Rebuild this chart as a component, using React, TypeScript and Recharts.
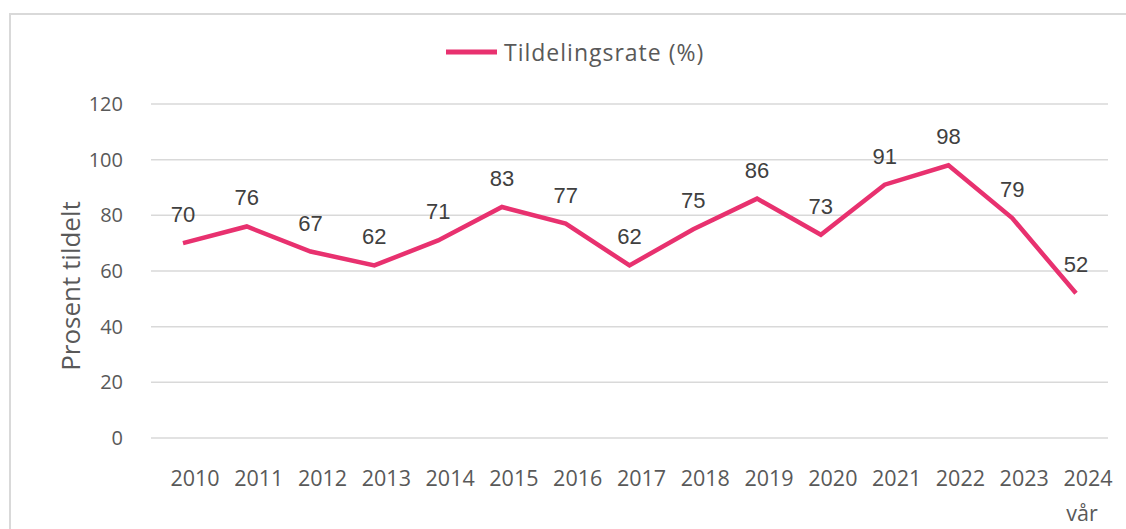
import React from 'react';
import { LineChart, Line, XAxis, YAxis, CartesianGrid, Legend, LabelList } from 'recharts';

const years = ['2010', '2011', '2012', '2013', '2014', '2015', '2016', '2017', '2018', '2019', '2020', '2021', '2022', '2023', '2024 vår'];
const rates = [70, 76, 67, 62, 71, 83, 77, 62, 75, 86, 73, 91, 98, 79, 52];
const yTicks = [0, 20, 40, 60, 80, 100, 120];

const data = years.map((year, i) => ({ year, rate: rates[i] }));

const pink = '#E8316F';
const grid = '#D9D9D9';
const tickColor = '#595959';
const font = "'Open Sans', sans-serif";

const YearTick = (props: any) => {
  const { x, y, payload } = props;
  const lines = String(payload.value).split(' ');
  return (
    <text x={x + 12} y={y + 40} textAnchor="middle" fill={tickColor} fontSize={21.5} fontFamily={font}>
      {lines.map((line, i) => (
        <tspan key={i} x={i === 0 ? x + 12 : x + 6} dy={i === 0 ? 0 : 35}>
          {line}
        </tspan>
      ))}
    </text>
  );
};

const LegendContent = () => (
  <div style={{ display: 'flex', alignItems: 'center', height: 30, fontFamily: font, fontSize: 23, letterSpacing: 1, color: tickColor }}>
    <svg width={51} height={6}>
      <line x1={0} y1={3} x2={51} y2={3} stroke={pink} strokeWidth={5} />
    </svg>
    <span style={{ marginLeft: 7 }}>Tildelingsrate (%)</span>
  </div>
);

export default function App() {
  return (
    <div style={{ position: 'absolute', left: 0, top: 0, width: 1126, height: 529, overflow: 'hidden', background: '#fff' }}>
      <div style={{ position: 'absolute', left: 9, top: 13, width: 1200, height: 600, border: `2px solid ${grid}` }} />
      <LineChart width={1126} height={529} data={data} margin={{ top: 74, right: 18, bottom: 0, left: 0 }}>
        <Legend verticalAlign="top" content={<LegendContent />} wrapperStyle={{ top: 37, left: 446, width: 'auto', height: 30 }} />
        <CartesianGrid vertical={false} stroke={grid} strokeWidth={1.5} />
        <XAxis
          dataKey="year"
          height={91}
          axisLine={false}
          tickLine={false}
          interval={0}
          padding={{ left: 32, right: 32 }}
          tick={<YearTick />}
        />
        <YAxis
          width={151}
          domain={[0, 120]}
          ticks={yTicks}
          axisLine={false}
          tickLine={false}
          tickMargin={22}
          tick={{ fill: tickColor, fontSize: 20, fontFamily: font }}
          label={{ value: 'Prosent tildelt', angle: -90, position: 'center', dx: -5, dy: 15, fill: tickColor, fontSize: 26, fontFamily: font }}
        />
        <Line
          type="linear"
          dataKey="rate"
          stroke={pink}
          strokeWidth={4.5}
          dot={false}
          activeDot={false}
          isAnimationActive={false}
        >
          <LabelList dataKey="rate" position="top" offset={21} fill="#404040" fontSize={22} fontFamily="'Liberation Sans', Arial, sans-serif" />
        </Line>
      </LineChart>
    </div>
  );
}
